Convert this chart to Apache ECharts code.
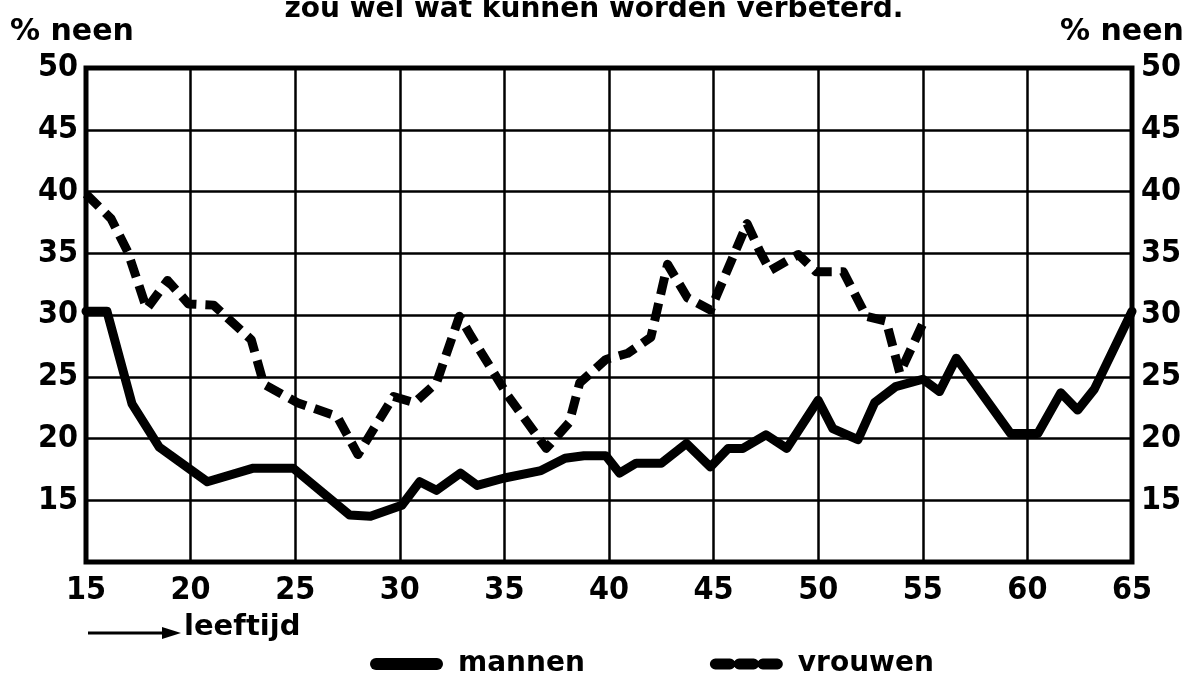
<!DOCTYPE html>
<html>
<head>
<meta charset="utf-8">
<script src="https://cdn.jsdelivr.net/npm/echarts@6/dist/echarts.min.js"></script>
<style>
  html, body { margin: 0; padding: 0; background: #fff; }
  #chart { width: 1188px; height: 674px; }
</style>
</head>
<body>
<div id="chart"></div>
<script>
// leeftijd (x) en percentage "neen" (y)
var mannenAge = [15, 16, 17.2, 18.5, 20.8, 23, 24.9, 27.6, 28.6, 30.1, 30.95, 31.75, 32.9, 33.7,
  35, 36.75, 37.9, 38.8, 39.85, 40.5, 41.3, 42.5, 43.7, 44.85, 45.7, 46.4, 47.5, 48.5,
  50, 50.7, 51.9, 52.7, 53.7, 55, 55.8, 56.6, 59.2, 60.5, 61.6, 62.4, 63.2, 65];
var mannenPct = [30.3, 30.3, 22.8, 19.3, 16.5, 17.6, 17.6, 13.8, 13.7, 14.6, 16.5, 15.8, 17.2, 16.2,
  16.8, 17.4, 18.4, 18.6, 18.6, 17.2, 18.0, 18.0, 19.6, 17.7, 19.2, 19.2, 20.3, 19.2,
  23.1, 20.8, 19.9, 22.9, 24.2, 24.8, 23.8, 26.5, 20.4, 20.4, 23.7, 22.3, 24.0, 30.3];

var vrouwenAge = [15, 16.2, 17, 17.9, 18.9, 19.9, 21.1, 22.9, 23.5, 25.1, 27, 28, 29.7, 30.7,
  31.75, 32.85, 33.4, 34.5, 35.15, 37, 38.1, 38.6, 39.85, 40.9, 42, 42.8, 43.75, 44.85,
  46.6, 47.2, 47.7, 49.05, 49.9, 51.2, 52.3, 53.25, 53.9, 55];
var vrouwenPct = [39.8, 37.8, 35.1, 30.5, 32.8, 30.9, 30.8, 28.0, 24.4, 22.9, 21.8, 18.7, 23.4, 22.9,
  24.5, 29.9, 28.3, 25.3, 23.5, 19.2, 21.3, 24.5, 26.4, 26.9, 28.2, 34.1, 31.4, 30.4,
  37.4, 35.2, 33.6, 34.9, 33.5, 33.5, 29.9, 29.5, 25.3, 29.3];

var xTicks = { min: 15, max: 65, step: 5 };
var yTicks = { min: 10, max: 50, step: 5 };

function pairs(xs, ys) {
  return xs.map(function (x, i) { return [x, ys[i]]; });
}

var labelFont = {
  color: '#000',
  fontFamily: '"DejaVu Sans Condensed", sans-serif',
  fontWeight: 'bold',
  fontSize: 32
};
var textFont = '"DejaVu Sans", sans-serif';

var chart = echarts.init(document.getElementById('chart'));

var yLabel = function (v) { return v === yTicks.min ? '' : String(v); };

var option = {
  backgroundColor: '#fff',
  animation: false,
  grid: {
    left: 86, right: 56, top: 68, bottom: 112,
    show: true, borderWidth: 5, borderColor: '#000', backgroundColor: 'transparent'
  },
  xAxis: {
    type: 'value', min: xTicks.min, max: xTicks.max, interval: xTicks.step,
    axisLine: { show: false }, axisTick: { show: false },
    splitLine: { lineStyle: { color: '#000', width: 2.5 } },
    axisLabel: Object.assign({ margin: 13 }, labelFont)
  },
  yAxis: [{
    type: 'value', min: yTicks.min, max: yTicks.max, interval: yTicks.step,
    axisLine: { show: false }, axisTick: { show: false },
    splitLine: { lineStyle: { color: '#000', width: 2.5 } },
    axisLabel: Object.assign({ margin: 8, formatter: yLabel }, labelFont)
  }, {
    type: 'value', position: 'right', min: yTicks.min, max: yTicks.max, interval: yTicks.step,
    axisLine: { show: false }, axisTick: { show: false }, splitLine: { show: false },
    axisLabel: Object.assign({ margin: 9, formatter: yLabel }, labelFont)
  }],
  legend: {
    left: 365, top: 645, itemWidth: 73, itemHeight: 12, itemGap: 125,
    textStyle: { color: '#000', fontFamily: textFont, fontWeight: 'bold', fontSize: 28, padding: [0, 0, 0, 10] },
    data: [
      { name: 'mannen', icon: 'path://M6,0H67A6,6,0,0,1,67,12H6A6,6,0,0,1,6,0Z' },
      { name: 'vrouwen', icon: 'path://M3,0H19A3,3,0,0,1,19,12H3A3,3,0,0,1,3,0Z M29,0H45A3,3,0,0,1,45,12H29A3,3,0,0,1,29,0Z M55,0H71A3,3,0,0,1,71,12H55A3,3,0,0,1,55,0Z' }
    ]
  },
  series: [{
    name: 'mannen', type: 'line', symbol: 'none', z: 5,
    lineStyle: { color: '#000', width: 9, join: 'round', cap: 'round' },
    itemStyle: { color: '#000' },
    data: pairs(mannenAge, mannenPct)
  }, {
    name: 'vrouwen', type: 'line', symbol: 'none', z: 5,
    lineStyle: { color: '#000', width: 9, type: [18, 9], join: 'round', cap: 'butt' },
    itemStyle: { color: '#000' },
    data: pairs(vrouwenAge, vrouwenPct)
  }],
  graphic: [
    { type: 'text', left: 'center', top: -4,
      style: { text: 'zou wel wat kunnen worden verbeterd.', fill: '#000', font: 'bold 28px ' + textFont } },
    { type: 'text', left: 10, top: 17,
      style: { text: '% neen', fill: '#000', font: 'bold 30px ' + textFont } },
    { type: 'text', left: 1060, top: 17,
      style: { text: '% neen', fill: '#000', font: 'bold 30px ' + textFont } },
    { type: 'line', shape: { x1: 88, y1: 633, x2: 166, y2: 633 },
      style: { stroke: '#000', lineWidth: 3 } },
    { type: 'polygon', shape: { points: [[162, 627], [181, 633], [162, 639]] },
      style: { fill: '#000' } },
    { type: 'text', left: 184, top: 613,
      style: { text: 'leeftijd', fill: '#000', font: 'bold 29px ' + textFont } }
  ]
};

chart.setOption(option);
</script>
</body>
</html>
